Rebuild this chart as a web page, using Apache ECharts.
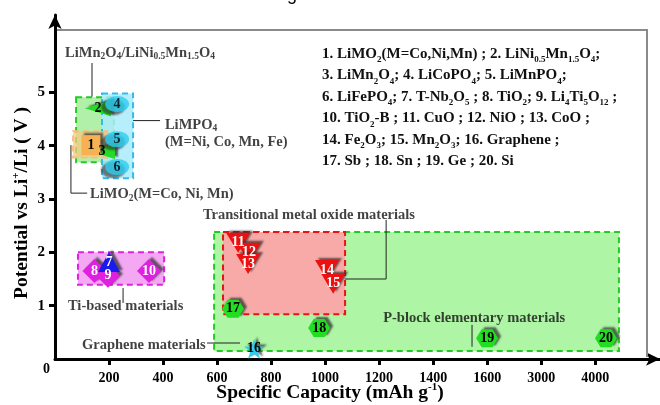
<!DOCTYPE html>
<html>
<head>
<meta charset="utf-8">
<script src="https://cdn.jsdelivr.net/npm/echarts@6/dist/echarts.min.js"></script>
<style>html,body{margin:0;padding:0;background:#fff}#main{width:660px;height:405px}</style>
</head>
<body>
<div id="main"></div>
<script>
// capacity axis is broken: equal spacing per tick
var capTicks = [0, 200, 400, 600, 800, 1000, 1200, 1400, 1600, 3000, 4000];
var potTicks = [1, 2, 3, 4, 5];

// materials 1..20 (mAh/g , V vs Li+/Li)
var matIds    = ['1','2','3','4','5','6','7','8','9','10','11','12','13','14','15','16','17','18','19','20'];
var capacity  = [133, 159, 174, 230, 230, 230, 200, 146, 196, 348, 678, 718, 715, 1007, 1030, 737, 659, 978, 1600, 4200];
var potential = [4.01, 4.70, 3.90, 4.78, 4.12, 3.60, 1.82, 1.65, 1.56, 1.65, 2.18, 1.99, 1.78, 1.67, 1.41, 0.19, 0.94, 0.58, 0.39, 0.39];

// groups (indexes into the arrays above)
var grpSpinel = [1, 2];
var grpLayered = [0];
var grpPhosph = [3, 4, 5];
var grpTi = [7, 8, 9];
var grpNb = [6];
var grpOxide = [10, 11, 12, 13, 14];
var grpGraph = [15];
var grpPblock = [16, 17, 18, 19];

// material regions [cap0, V0, cap1, V1]
var boxPblock = [589, 2.38, 4440, 0.15];
var boxOxide  = [622, 2.38, 1074, 0.84];
var boxTi     = [85, 2.0, 404, 1.39];
var boxSpinel = [78, 4.91, 218, 3.69];
var boxPhosph = [174, 4.98, 289, 3.39];
var boxLayer  = [67, 4.27, 193, 3.78];

// annotation anchors (left edge of text) and leader lines
var noteCap = [37, 407, 407, 130, 48, 548, 1215, 100];
var notePot = [5.74, 4.39, 4.07, 3.08, 0.99, 2.70, 0.77, 0.26];
var noteText = [
  '{b|LiMn}{s|2}{b|O}{s|4}{b|/LiNi}{s|0.5}{b|Mn}{s|1.5}{b|O}{s|4}',
  '{b|LiMPO}{s|4}',
  '{b|(M=Ni, Co, Mn, Fe)}',
  '{b|LiMO}{s|2}{b|(M=Co, Ni, Mn)}',
  '{b|Ti-based materials}',
  '{b|Transitional metal oxide materials}',
  '{b|P-block elementary materials}',
  '{b|Graphene materials}'
];
var leaders = [
  [[137, 5.55], [137, 4.92]],
  [[289, 4.47], [389, 4.47]],
  [[59, 4.01], [59, 3.11], [119, 3.11]],
  [[252, 1.33], [252, 1.05]],
  [[1226, 2.61], [1226, 1.50], [1074, 1.50]],
  [[1544, 0.64], [1544, 0.23]],
  [[563, 0.30], [685, 0.30]]
];

var legendLines = [
  '{t|1. LiMO}{s|2}{t|(M=Co,Ni,Mn) ; 2. LiNi}{s|0.5}{t|Mn}{s|1.5}{t|O}{s|4}{t|;}',
  '{t|3. LiMn}{s|2}{t|O}{s|4}{t|; 4. LiCoPO}{s|4}{t|; 5. LiMnPO}{s|4}{t|;}',
  '{t|6. LiFePO}{s|4}{t|; 7. T-Nb}{s|2}{t|O}{s|5}{t| ; 8. TiO}{s|2}{t|; 9. Li}{s|4}{t|Ti}{s|5}{t|O}{s|12}{t| ;}',
  '{t|10. TiO}{s|2}{t|-B ; 11. CuO ; 12. NiO ; 13. CoO ;}',
  '{t|14. Fe}{s|2}{t|O}{s|3}{t|; 15. Mn}{s|2}{t|O}{s|3}{t|; 16. Graphene ;}',
  '{t|17. Sb ; 18. Sn ; 19. Ge ; 20. Si}'
];

var FONT = 'Liberation Serif';

function capPos(c) {
  for (var i = 0; i < capTicks.length - 1; i++) {
    if (c <= capTicks[i + 1]) return i + (c - capTicks[i]) / (capTicks[i + 1] - capTicks[i]);
  }
  var n = capTicks.length - 1;
  return n + (c - capTicks[n]) / (capTicks[n] - capTicks[n - 1]);
}
function pts(grp) {
  return grp.map(function (i) { return { name: matIds[i], value: [capPos(capacity[i]), potential[i]] }; });
}
function box(b) { return [capPos(b[0]), b[1], capPos(b[2]), b[3]]; }

var hexPath = 'path://M25,0 L75,0 L100,43 L75,86 L25,86 L0,43 Z';
var starPath = 'path://M50,0 L61,35 L98,35 L68,57 L79,91 L50,70 L21,91 L32,57 L2,35 L39,35 Z';

function ptSeries(grp, symbol, size, color, txt, extra) {
  var s = {
    type: 'scatter', data: pts(grp), symbol: symbol, symbolSize: size,
    itemStyle: { color: color, opacity: 1, shadowColor: 'rgba(50,50,50,0.75)', shadowBlur: 2, shadowOffsetX: 3, shadowOffsetY: -2 },
    label: { show: true, position: 'inside', formatter: '{b}', color: txt, fontFamily: FONT, fontWeight: 'bold', fontSize: 14 },
    z: 5
  };
  for (var k in extra) s[k] = extra[k];
  return s;
}

var boxes = [box(boxPblock), box(boxOxide), box(boxTi), box(boxSpinel), box(boxPhosph), box(boxLayer)];
var boxFill = ['#aef5a5', '#f8aaa8', '#f4a8f4', 'rgba(150,235,140,0.75)', 'rgba(170,235,250,0.85)', 'rgba(248,200,130,0.75)'];
var boxLine = ['#22cc22', '#ee1111', '#dd22dd', '#22cc22', '#33bbee', '#f5c07a'];

var richNote = {
  b: { fontFamily: FONT, fontWeight: 'bold', fontSize: 14.5, color: '#111', lineHeight: 18 },
  s: { fontFamily: FONT, fontWeight: 'bold', fontSize: 9.5, color: '#111', lineHeight: 9, verticalAlign: 'bottom' }
};
var richName = {
  a: { fontFamily: FONT, fontWeight: 'bold', fontSize: 19.5, color: '#000', lineHeight: 22 },
  u: { fontFamily: FONT, fontWeight: 'bold', fontSize: 11, color: '#000', lineHeight: 12, verticalAlign: 'top' }
};

var myChart = echarts.init(document.getElementById('main'));
var option = {
  backgroundColor: '#fff',
  animation: false,
  grid: { left: 55, right: 0, top: 15, bottom: 46, outerBoundsMode: 'none', containLabel: false },
  xAxis: {
    type: 'value', min: 0, max: 11.2, interval: 1,
    splitLine: { show: false },
    axisLine: { lineStyle: { color: '#000', width: 3 }, symbol: ['none', 'arrow'], symbolSize: [10, 14] },
    axisTick: { customValues: [1, 2, 3, 4, 5, 6, 7, 8, 9, 10], length: 6, lineStyle: { color: '#000', width: 3 } },
    axisLabel: {
      customValues: [1, 2, 3, 4, 5, 6, 7, 8, 9, 10], margin: 12,
      formatter: function (v) { return String(capTicks[Math.round(v)]); },
      color: '#000', fontFamily: FONT, fontWeight: 'bold', fontSize: 14
    },
    name: '{a|Specific Capacity (mAh g}{u|-1}{a|)}',
    nameLocation: 'middle', nameGap: 23, nameMoveOverlap: false,
    nameTextStyle: { padding: [0, 55, 0, 0], rich: richName }
  },
  yAxis: {
    type: 'value', min: 0, max: 6.45, interval: 1,
    splitLine: { show: false },
    axisLine: { lineStyle: { color: '#000', width: 3 }, symbol: ['none', 'arrow'], symbolSize: [10, 14] },
    axisTick: { customValues: potTicks, length: 6, lineStyle: { color: '#000', width: 3 } },
    axisLabel: { customValues: potTicks, margin: 10, color: '#000', fontFamily: FONT, fontWeight: 'bold', fontSize: 15 },
    name: '{a|Potential vs Li}{u|+}{a|/Li ( V )}',
    nameLocation: 'middle', nameGap: 22, nameRotate: 90, nameMoveOverlap: false,
    nameTextStyle: { padding: [0, 32, 0, 0], rich: richName }
  },
  graphic: [
    { type: 'polyline', shape: { points: [[57, 30], [647, 30], [647, 357]] }, style: { stroke: '#8a8a8a', lineWidth: 2, fill: null }, z: 1 },
    { type: 'text', x: 43, y: 362, style: { text: '0', font: 'bold 14px "Liberation Serif"', fill: '#000' } },
    { type: 'text', x: 287, y: -14, style: { text: 'g', font: '18px "Liberation Sans"', fill: '#000' } },
    {
      type: 'text', x: 322, y: 43, z: 10,
      style: {
        text: legendLines.join('\n'),
        rich: {
          t: { fontFamily: FONT, fontWeight: 'bold', fontSize: 15, fill: '#111', lineHeight: 21.5 },
          s: { fontFamily: FONT, fontWeight: 'bold', fontSize: 9, fill: '#111', lineHeight: 11, verticalAlign: 'bottom' }
        }
      }
    }
  ],
  series: [
    {
      type: 'custom', data: boxes, encode: { x: [0, 2], y: [1, 3] }, clip: false, silent: true, z: 2,
      renderItem: function (params, api) {
        var p0 = api.coord([api.value(0), api.value(1)]);
        var p1 = api.coord([api.value(2), api.value(3)]);
        var i = params.dataIndex;
        return {
          type: 'rect',
          shape: { x: p0[0], y: p0[1], width: p1[0] - p0[0], height: p1[1] - p0[1] },
          style: { fill: boxFill[i], stroke: boxLine[i], lineWidth: 2, lineDash: [6, 4] }
        };
      }
    },
    {
      type: 'lines', coordinateSystem: 'cartesian2d', polyline: true, silent: true, z: 4,
      data: leaders.map(function (l) { return { coords: l.map(function (p) { return [capPos(p[0]), p[1]]; }) }; }),
      lineStyle: { color: '#222', width: 1, opacity: 1 }
    },
    {
      type: 'scatter', symbolSize: 0, silent: true, z: 6,
      data: noteText.map(function (t, i) { return { name: t, value: [capPos(noteCap[i]), notePot[i]] }; }),
      label: { show: true, position: 'right', distance: 0, formatter: '{b}', rich: richNote }
    },
    ptSeries(grpSpinel, 'triangle', [16, 26], '#22dd22', '#000', { symbolRotate: 90 }),
    ptSeries(grpLayered, 'rect', [19, 20], '#f6b152', '#000', {}),
    ptSeries(grpPhosph, 'circle', [24, 16], '#2ccdf0', '#000', {
      itemStyle: { color: '#2ccdf0', shadowColor: 'rgba(50,50,50,0.8)', shadowBlur: 2, shadowOffsetX: -4, shadowOffsetY: 3 }
    }),
    ptSeries(grpTi, 'diamond', [24, 24], '#e020e0', '#fff', {}),
    ptSeries(grpNb, 'triangle', [22, 20], '#1a1aee', '#fff', {}),
    ptSeries(grpOxide, 'triangle', [24, 20], '#ee1010', '#fff', { symbolRotate: 180 }),
    ptSeries(grpGraph, starPath, [20, 20], '#33ccee', '#000', {}),
    ptSeries(grpPblock, hexPath, [22, 18], '#22dd22', '#000', {})
  ]
};
myChart.setOption(option);
</script>
</body>
</html>
